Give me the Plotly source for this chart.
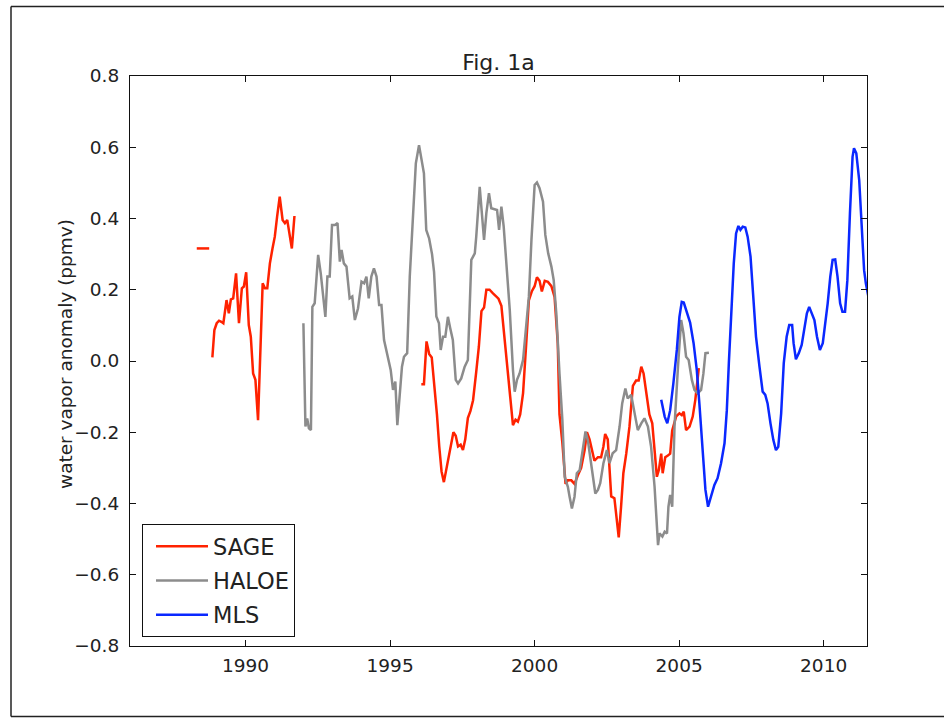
import plotly.graph_objects as go

# ---------------- data ----------------
sage_short_years = [1988.31, 1988.74]
sage_short_vals = [0.316, 0.316]

sage1_years = [1988.85, 1988.92, 1989.00, 1989.08, 1989.16, 1989.23, 1989.34, 1989.42, 1989.49, 1989.57,
               1989.67, 1989.77, 1989.87, 1989.94, 1990.02, 1990.11, 1990.18, 1990.26, 1990.34, 1990.43,
               1990.59, 1990.67, 1990.75, 1990.84, 1990.93, 1991.01, 1991.09, 1991.18, 1991.28, 1991.36,
               1991.44, 1991.53, 1991.60, 1991.69]
sage1_vals = [0.01, 0.087, 0.106, 0.113, 0.11, 0.106, 0.171, 0.134, 0.173, 0.176,
              0.246, 0.106, 0.204, 0.209, 0.249, 0.101, 0.068, -0.035, -0.053, -0.166,
              0.218, 0.204, 0.204, 0.274, 0.316, 0.349, 0.405, 0.461, 0.396, 0.387,
              0.396, 0.354, 0.316, 0.407]

sage2_years = [1996.08, 1996.17, 1996.26, 1996.35, 1996.44, 1996.53, 1996.62, 1996.70, 1996.78, 1996.86,
               1996.95, 1997.04, 1997.12, 1997.19, 1997.27, 1997.35, 1997.44, 1997.52, 1997.60, 1997.69,
               1997.78, 1997.87, 1997.98, 1998.07, 1998.16, 1998.25, 1998.33, 1998.44, 1998.56, 1998.67,
               1998.75, 1998.85, 1998.94, 1999.02, 1999.14, 1999.25, 1999.34, 1999.42, 1999.50, 1999.60,
               1999.71, 1999.80, 1999.90, 2000.00, 2000.08, 2000.17, 2000.25, 2000.35, 2000.46, 2000.58,
               2000.69, 2000.80, 2000.86, 2000.96, 2001.07, 2001.15, 2001.27, 2001.38, 2001.50, 2001.61,
               2001.73, 2001.81, 2001.90, 2002.00, 2002.07, 2002.19, 2002.30, 2002.38, 2002.44, 2002.53,
               2002.65, 2002.76, 2002.91, 2002.99, 2003.07, 2003.17, 2003.28, 2003.40, 2003.51, 2003.60,
               2003.69, 2003.77, 2003.86, 2003.97, 2004.07, 2004.15, 2004.23, 2004.30, 2004.38, 2004.43,
               2004.52, 2004.61, 2004.69, 2004.76, 2004.90, 2005.01, 2005.09, 2005.16, 2005.24, 2005.36,
               2005.47, 2005.56, 2005.64, 2005.68]
sage2_vals = [-0.065, -0.065, 0.055, 0.02, 0.01, -0.06, -0.15, -0.24, -0.31, -0.34,
              -0.30, -0.265, -0.22, -0.20, -0.21, -0.24, -0.235, -0.25, -0.22, -0.16,
              -0.14, -0.11, -0.03, 0.04, 0.14, 0.15, 0.20, 0.20, 0.19, 0.18,
              0.175, 0.155, 0.08, 0.03, -0.09, -0.18, -0.165, -0.17, -0.15, -0.09,
              0.05, 0.17, 0.195, 0.21, 0.235, 0.225, 0.195, 0.225, 0.222, 0.21,
              0.18, 0.05, -0.15, -0.23, -0.345, -0.335, -0.335, -0.345, -0.32, -0.30,
              -0.25, -0.20, -0.22, -0.26, -0.28, -0.27, -0.27, -0.24, -0.205, -0.22,
              -0.38, -0.385, -0.495, -0.41, -0.315, -0.26, -0.185, -0.07, -0.055, -0.055,
              -0.016, -0.035, -0.09, -0.15, -0.175, -0.24, -0.325, -0.305, -0.26, -0.315,
              -0.27, -0.265, -0.26, -0.195, -0.155, -0.147, -0.152, -0.142, -0.194, -0.184,
              -0.156, -0.109, -0.035, -0.02]

haloe_years = [1992.00, 1992.07, 1992.13, 1992.19, 1992.26, 1992.31, 1992.39, 1992.51, 1992.60, 1992.68,
               1992.76, 1992.83, 1992.91, 1992.99, 1993.09, 1993.18, 1993.26, 1993.32, 1993.40, 1993.49,
               1993.60, 1993.69, 1993.78, 1993.89, 1994.01, 1994.10, 1994.18, 1994.26, 1994.35, 1994.44,
               1994.53, 1994.62, 1994.70, 1994.79, 1994.87, 1994.95, 1995.02, 1995.10, 1995.18, 1995.25,
               1995.33, 1995.41, 1995.48, 1995.59, 1995.68, 1995.79, 1995.89, 1996.00, 1996.09, 1996.17,
               1996.25, 1996.35, 1996.45, 1996.52, 1996.60, 1996.69, 1996.75, 1996.83, 1996.91, 1997.00,
               1997.08, 1997.17, 1997.27, 1997.35, 1997.46, 1997.58, 1997.69, 1997.81, 1997.93, 1997.98,
               1998.10, 1998.19, 1998.25, 1998.33, 1998.42, 1998.50, 1998.62, 1998.70, 1998.77, 1998.85,
               1998.93, 1999.02, 1999.14, 1999.25, 1999.31, 1999.39, 1999.48, 1999.60, 1999.71, 1999.80,
               1999.89, 2000.00, 2000.08, 2000.17, 2000.29, 2000.37, 2000.47, 2000.58, 2000.66, 2000.75,
               2000.86, 2000.96, 2001.04, 2001.15, 2001.21, 2001.29, 2001.38, 2001.46, 2001.56, 2001.65,
               2001.76, 2001.84, 2001.93, 2002.02, 2002.10, 2002.19, 2002.27, 2002.38, 2002.50, 2002.59,
               2002.70, 2002.82, 2002.94, 2003.03, 2003.14, 2003.22, 2003.34, 2003.46, 2003.57, 2003.69,
               2003.80, 2003.92, 2004.03, 2004.15, 2004.23, 2004.27, 2004.32, 2004.42, 2004.50, 2004.58,
               2004.63, 2004.69, 2004.76, 2004.84, 2004.96, 2005.07, 2005.15, 2005.24, 2005.33, 2005.44,
               2005.53, 2005.64, 2005.76, 2005.84, 2005.91, 2006.03]
haloe_vals = [0.106, -0.184, -0.161, -0.189, -0.194, 0.152, 0.162, 0.298, 0.246, 0.19,
              0.124, 0.237, 0.237, 0.382, 0.382, 0.387, 0.279, 0.312, 0.274, 0.265,
              0.176, 0.181, 0.115, 0.148, 0.223, 0.218, 0.237, 0.176, 0.237, 0.26,
              0.237, 0.157, 0.157, 0.059, 0.031, -0.006, -0.025, -0.081, -0.058, -0.18,
              -0.10, -0.016, 0.012, 0.022, 0.237, 0.415, 0.555, 0.606, 0.564, 0.527,
              0.368, 0.344, 0.30, 0.25, 0.125, 0.106, 0.031, 0.068, 0.068, 0.124,
              0.092, 0.059, -0.053, -0.063, -0.049, -0.016, 0.003, 0.284, 0.302, 0.349,
              0.489, 0.396, 0.34, 0.415, 0.471, 0.429, 0.426, 0.424, 0.368, 0.433,
              0.377, 0.284, 0.143, -0.025, -0.086, -0.053, -0.035, 0.003, 0.096, 0.18,
              0.34, 0.494, 0.501, 0.485, 0.447, 0.354, 0.302, 0.265, 0.227, 0.134,
              -0.035, -0.166, -0.325, -0.353, -0.381, -0.414, -0.381, -0.315, -0.306, -0.25,
              -0.198, -0.222, -0.278, -0.334, -0.372, -0.362, -0.343, -0.287, -0.25, -0.287,
              -0.259, -0.25, -0.184, -0.119, -0.077, -0.105, -0.095, -0.147, -0.194, -0.175,
              -0.161, -0.184, -0.241, -0.353, -0.474, -0.517, -0.484, -0.493, -0.479, -0.484,
              -0.409, -0.376, -0.409, -0.184, -0.016, 0.115, 0.078, 0.012, 0.003, -0.053,
              -0.081, -0.091, -0.081, -0.035, 0.022, 0.023]

mls_years = [2004.38, 2004.50, 2004.59, 2004.69, 2004.80, 2004.92, 2005.01, 2005.09, 2005.16, 2005.27,
             2005.38, 2005.50, 2005.61, 2005.70, 2005.82, 2005.91, 2006.00, 2006.10, 2006.22, 2006.33,
             2006.45, 2006.57, 2006.65, 2006.72, 2006.80, 2006.89, 2006.97, 2007.05, 2007.12, 2007.20,
             2007.29, 2007.37, 2007.47, 2007.57, 2007.66, 2007.78, 2007.89, 2007.98, 2008.06, 2008.16,
             2008.26, 2008.35, 2008.43, 2008.53, 2008.62, 2008.72, 2008.81, 2008.91, 2008.96, 2009.04,
             2009.14, 2009.24, 2009.33, 2009.42, 2009.50, 2009.60, 2009.68, 2009.77, 2009.87, 2009.97,
             2010.05, 2010.14, 2010.23, 2010.31, 2010.40, 2010.48, 2010.57, 2010.65, 2010.74, 2010.82,
             2010.91, 2011.00, 2011.05, 2011.13, 2011.23, 2011.32, 2011.40, 2011.46, 2011.55]
mls_vals = [-0.109, -0.156, -0.175, -0.138, -0.063, 0.031, 0.124, 0.166, 0.164, 0.138,
            0.108, 0.05, -0.025, -0.119, -0.25, -0.362, -0.409, -0.381, -0.348, -0.329,
            -0.287, -0.231, -0.138, -0.006, 0.134, 0.274, 0.358, 0.379, 0.368, 0.377,
            0.375, 0.349, 0.293, 0.18, 0.068, -0.016, -0.086, -0.095, -0.119, -0.175,
            -0.222, -0.25, -0.241, -0.147, -0.006, 0.068, 0.101, 0.101, 0.05, 0.005,
            0.022, 0.045, 0.087, 0.134, 0.152, 0.134, 0.115, 0.068, 0.031, 0.05,
            0.096, 0.162, 0.237, 0.284, 0.285, 0.237, 0.162, 0.138, 0.138, 0.227,
            0.415, 0.573, 0.597, 0.583, 0.508, 0.368, 0.255, 0.218, 0.18]

x_tick_vals = [1990, 1995, 2000, 2005, 2010]
x_tick_text = ["1990", "1995", "2000", "2005", "2010"]
y_tick_vals = [-0.8, -0.6, -0.4, -0.2, 0.0, 0.2, 0.4, 0.6, 0.8]
y_tick_text = ["\u22120.8", "\u22120.6", "\u22120.4", "\u22120.2", "0.0", "0.2", "0.4", "0.6", "0.8"]

series_names = ["SAGE", "HALOE", "MLS"]
series_colors = ["#ff2200", "#8c8c8c", "#0a28ff"]

# ---------------- figure ----------------
FONT = "DejaVu Sans"
W, H = 944, 718
L, R, T, B = 130, 77, 76, 72
pw, ph = W - L - R, H - T - B

sage_x = sage_short_years + [None] + sage1_years + [None] + sage2_years
sage_y = sage_short_vals + [None] + sage1_vals + [None] + sage2_vals

fig = go.Figure()
fig.add_trace(go.Scatter(x=sage_x, y=sage_y, mode="lines", name=series_names[0],
                         legendgroup="g1",
                         line=dict(color=series_colors[0], width=2.5), connectgaps=False))
fig.add_trace(go.Scatter(x=haloe_years, y=haloe_vals, mode="lines", name=series_names[1],
                         legendgroup="g2",
                         line=dict(color=series_colors[1], width=2.5)))
fig.add_trace(go.Scatter(x=mls_years, y=mls_vals, mode="lines", name=series_names[2],
                         legendgroup="g3",
                         line=dict(color=series_colors[2], width=2.5)))

axis_common = dict(showgrid=False, zeroline=False, showline=True, linecolor="#111", linewidth=1.2,
                   mirror="allticks", ticks="inside", ticklen=6, tickwidth=1, tickcolor="#111",
                   tickfont=dict(family=FONT, size=18.5, color="#222"))

fig.update_xaxes(range=[1986, 2011.5], tickvals=x_tick_vals, ticktext=x_tick_text,
                 ticklabelstandoff=3, **axis_common)
fig.update_yaxes(range=[-0.8, 0.8], tickvals=y_tick_vals, ticktext=y_tick_text,
                 ticklabelstandoff=6, **axis_common)

def px_x(p):
    return (p - L) / pw

def px_y(p):
    return (H - B - p) / ph

border = dict(color="#222", width=1.5)
fig.update_layout(
    width=W, height=H,
    margin=dict(l=L, r=R, t=T, b=B, autoexpand=False),
    paper_bgcolor="white", plot_bgcolor="white",
    font=dict(family=FONT, color="#222"),
    title=dict(text="Fig. 1a", x=0.5, xref="paper", xanchor="center",
               y=1, yref="paper", yanchor="bottom", pad=dict(b=6),
               font=dict(family=FONT, size=22, color="#222")),
    showlegend=True,
    legend=dict(x=px_x(142), y=px_y(637), xanchor="left", yanchor="bottom",
                bgcolor="white", bordercolor="#111", borderwidth=1,
                font=dict(family=FONT, size=22.5, color="#222"),
                itemwidth=52, indentation=8, tracegroupgap=2),
    annotations=[dict(text="water vapor anomaly (ppmv)", textangle=-90,
                      xref="paper", yref="paper", x=px_x(65), y=px_y(354),
                      xanchor="center", yanchor="middle", showarrow=False,
                      font=dict(family=FONT, size=18.5, color="#222"))],
    shapes=[
        dict(type="line", xref="paper", yref="paper", x0=px_x(11), x1=px_x(960),
             y0=px_y(6.5), y1=px_y(6.5), line=border, layer="below"),
        dict(type="line", xref="paper", yref="paper", x0=px_x(11), x1=px_x(960),
             y0=px_y(716.5), y1=px_y(716.5), line=border, layer="below"),
        dict(type="line", xref="paper", yref="paper", x0=px_x(11), x1=px_x(11),
             y0=px_y(6.5), y1=px_y(716.5), line=border, layer="below"),
    ],
)

fig.write_html("out.html")
